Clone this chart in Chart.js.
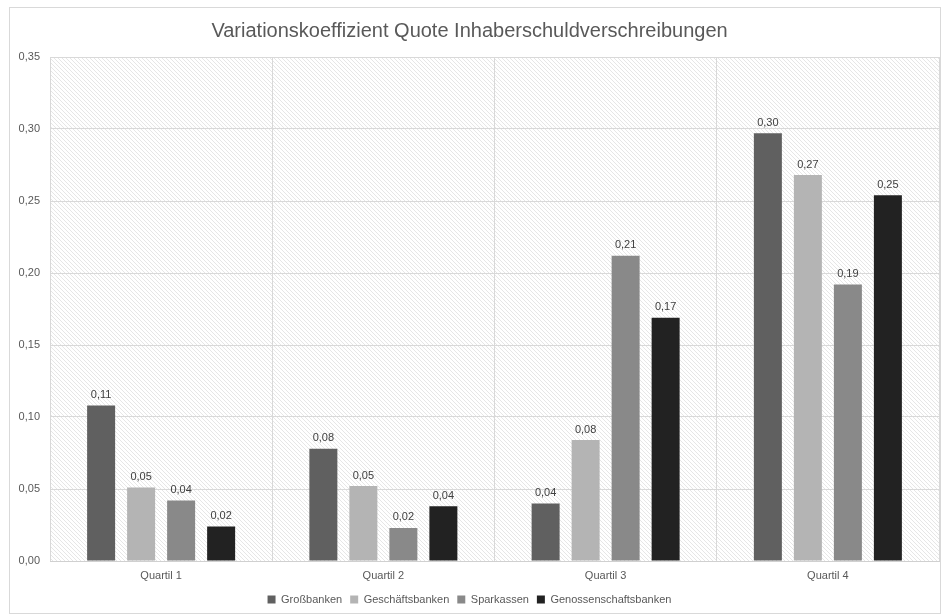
<!DOCTYPE html>
<html>
<head>
<meta charset="utf-8">
<script src="https://cdn.jsdelivr.net/npm/chart.js@4.4.1/dist/chart.umd.min.js"></script>
<style>
  html, body { margin: 0; padding: 0; background: #fff; }
  #wrap { width: 946px; height: 615px; }
</style>
</head>
<body>
<div id="wrap"><canvas id="myChart" width="946" height="615"></canvas></div>
<script>
// data
const quartile = ['Quartil 1', 'Quartil 2', 'Quartil 3', 'Quartil 4']
const grossbanken = [0.108, 0.078, 0.040, 0.297]
const geschaeftsbanken = [0.051, 0.052, 0.084, 0.268]
const sparkassen = [0.042, 0.023, 0.212, 0.192]
const genossenschaftsbanken = [0.024, 0.038, 0.169, 0.254]
const yTicks = [0, 0.05, 0.10, 0.15, 0.20, 0.25, 0.30, 0.35]

const fmt = (v) => v.toFixed(2).replace('.', ',')

// hatched plot background like the office chart
function hatch() {
    const c = document.createElement('canvas')
    c.width = 4
    c.height = 4
    const g = c.getContext('2d')
    g.fillStyle = '#ffffff'
    g.fillRect(0, 0, 4, 4)
    g.strokeStyle = '#e6e6e6'
    g.lineWidth = 1
    g.beginPath()
    g.moveTo(-1, -1); g.lineTo(5, 5)
    g.moveTo(-1, 3); g.lineTo(1, 5)
    g.moveTo(3, -1); g.lineTo(5, 1)
    g.stroke()
    return g.createPattern(c, 'repeat')
}

const backdrop = {
    id: 'backdrop',
    beforeDraw(chart) {
        const ctx = chart.ctx
        const a = chart.chartArea
        ctx.save()
        ctx.strokeStyle = '#d9d9d9'
        ctx.lineWidth = 1
        ctx.strokeRect(9.5, 7.5, 931, 606)
        ctx.fillStyle = hatch()
        ctx.fillRect(a.left, a.top, a.right - a.left, a.bottom - a.top)
        ctx.restore()
    }
}

const valueLabels = {
    id: 'valueLabels',
    afterDatasetsDraw(chart) {
        const ctx = chart.ctx
        ctx.save()
        ctx.font = '11px "Liberation Sans", Arial, sans-serif'
        ctx.fillStyle = '#404040'
        ctx.textAlign = 'center'
        ctx.textBaseline = 'bottom'
        chart.data.datasets.forEach((ds, i) => {
            chart.getDatasetMeta(i).data.forEach((bar, j) => {
                ctx.fillText(fmt(ds.data[j]), bar.x, bar.y - 5)
            })
        })
        ctx.restore()
    }
}

const ctx = document.getElementById('myChart')
const myChart = new Chart(ctx, {
    type: 'bar',
    data: {
        labels: quartile,
        datasets: [
            { label: 'Großbanken', data: grossbanken, backgroundColor: '#606060' },
            { label: 'Geschäftsbanken', data: geschaeftsbanken, backgroundColor: '#b4b4b4' },
            { label: 'Sparkassen', data: sparkassen, backgroundColor: '#898989' },
            { label: 'Genossenschaftsbanken', data: genossenschaftsbanken, backgroundColor: '#222222' }
        ]
    },
    options: {
        responsive: false,
        animation: false,
        devicePixelRatio: 1,
        datasets: {
            bar: { barPercentage: 0.7, categoryPercentage: 0.72 }
        },
        layout: { padding: { left: 0, right: 7, top: 0, bottom: 0 } },
        plugins: {
            title: {
                display: true,
                text: 'Variationskoeffizient Quote Inhaberschuldverschreibungen',
                color: '#595959',
                font: { family: '"Liberation Sans", Arial, sans-serif', size: 20, weight: 'normal' },
                padding: { top: 19, bottom: 14 }
            },
            legend: {
                position: 'bottom',
                labels: {
                    boxWidth: 8,
                    boxHeight: 8,
                    padding: 8,
                    color: '#595959',
                    font: { family: '"Liberation Sans", Arial, sans-serif', size: 11 }
                }
            },
            tooltip: { enabled: false }
        },
        scales: {
            x: {
                afterFit: (scale) => { scale.height = 25 },
                grid: { offset: true, color: '#d9d9d9', drawTicks: false },
                border: { color: '#d0d0d0' },
                ticks: {
                    color: '#595959',
                    padding: 8,
                    font: { family: '"Liberation Sans", Arial, sans-serif', size: 11 }
                }
            },
            y: {
                min: 0,
                max: 0.35,
                afterBuildTicks: (scale) => { scale.ticks = yTicks.map(v => ({ value: v })) },
                afterFit: (scale) => { scale.width = 50 },
                grid: { color: '#d9d9d9', drawTicks: false },
                border: { display: false },
                ticks: {
                    color: '#595959',
                    padding: 10,
                    font: { family: '"Liberation Sans", Arial, sans-serif', size: 11 },
                    callback: (v) => fmt(v)
                }
            }
        }
    },
    plugins: [backdrop, valueLabels]
})
</script>
</body>
</html>
